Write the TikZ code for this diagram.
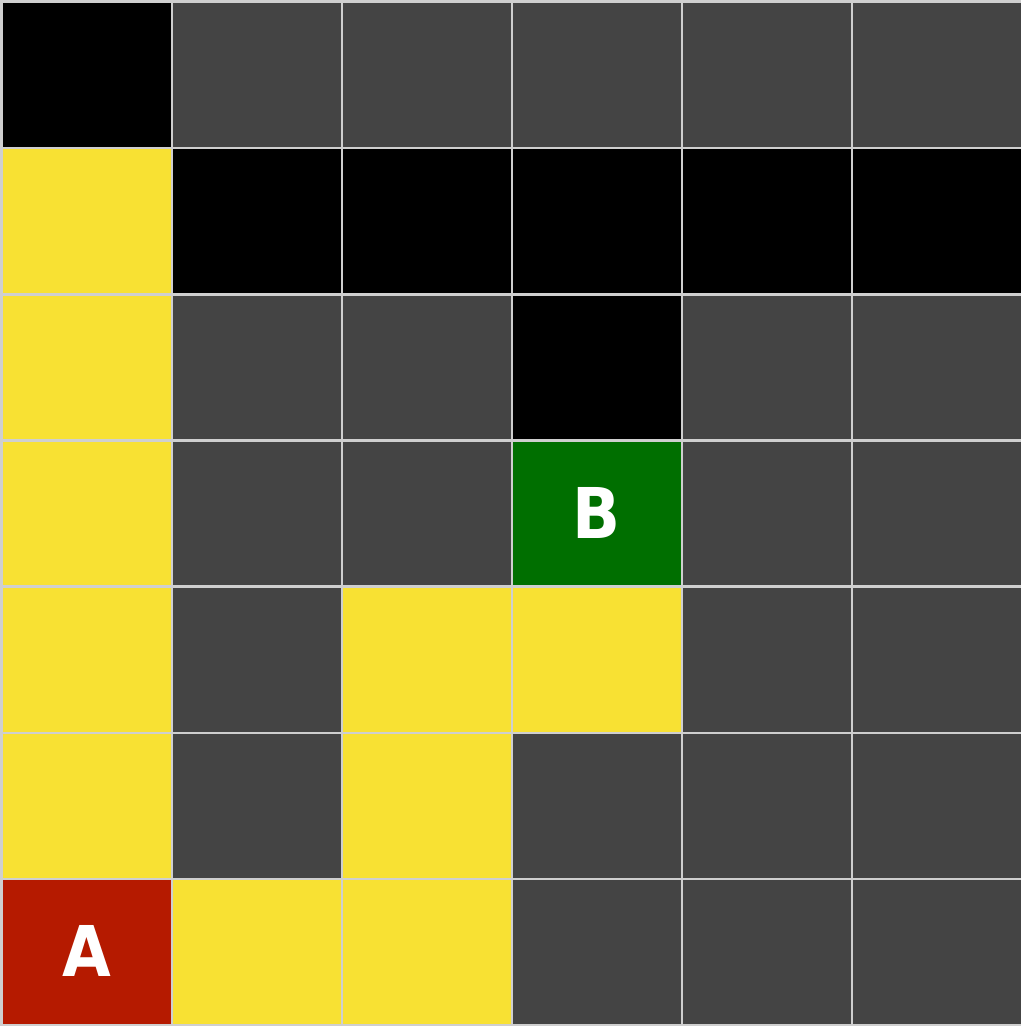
\documentclass[tikz,border=0pt]{standalone}
\usepackage{fontspec}
\setmainfont{DejaVu Sans}
\newfontfamily\labfont{DejaVu Sans}[FakeStretch=0.9]
\definecolor{gridc}{HTML}{CFCFCF}
\definecolor{cK}{HTML}{000000}
\definecolor{cG}{HTML}{444444}
\definecolor{cY}{HTML}{F8E133}
\definecolor{cR}{HTML}{B51A00}
\definecolor{cN}{HTML}{006F00}
\begin{document}
\begin{tikzpicture}[x=1pt,y=-1pt,
  cell/.style={rectangle,inner sep=0pt,minimum width=167.5pt,minimum height=143.6pt,draw=none},
  lab/.style={text=white,inner sep=0pt,font=\labfont\fontsize{70pt}{84pt}\selectfont\bfseries}]
\fill[gridc] (0,0) rectangle (1021,1026);
\useasboundingbox (0,0) rectangle (1021,1026);
\foreach \row [count=\r from 0] in {{K,G,G,G,G,G},{Y,K,K,K,K,K},{Y,G,G,K,G,G},{Y,G,G,N,G,G},{Y,G,Y,Y,G,G},{Y,G,Y,G,G,G},{R,Y,Y,G,G,G}} {
  \foreach \col [count=\c from 0] in \row {
    \node[cell,fill=c\col] (cell-\r-\c) at ({87+170*\c},{75.1+146.17*\r}) {};
  }
}
\node[lab] (labA) at ([yshift=1pt]cell-6-0.center) {A};
\node[lab] (labB) at ([yshift=1pt]cell-3-3.center) {B};
\end{tikzpicture}
\end{document}
